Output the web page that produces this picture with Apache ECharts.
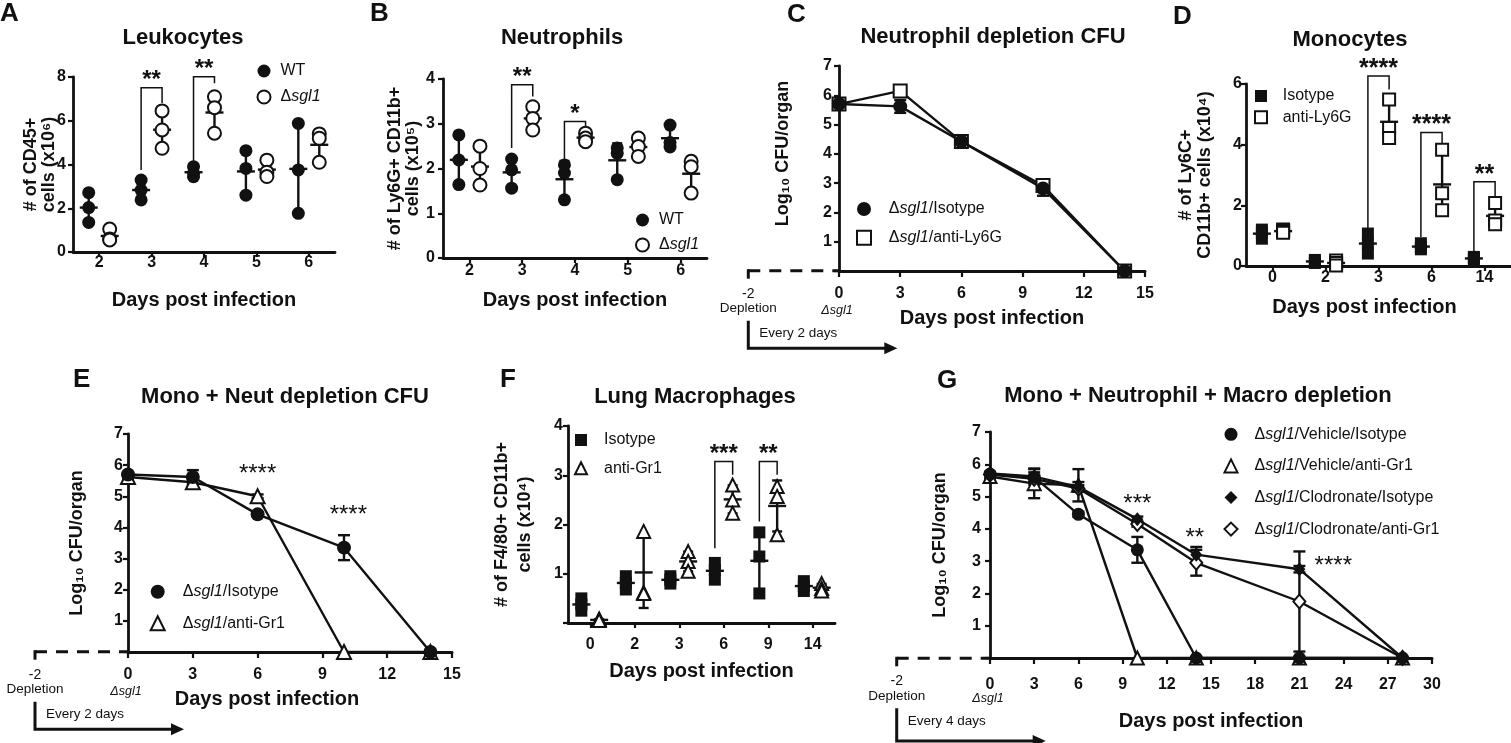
<!DOCTYPE html>
<html>
<head>
<meta charset="utf-8">
<script src="https://cdn.jsdelivr.net/npm/echarts@6/dist/echarts.min.js"></script>
<style>
  html, body { margin: 0; background: #fff; }
  #main { width: 1511px; height: 743px; }
</style>
</head>
<body>
<div id="main"></div>
<script>
// ---------- data ----------
// A  leukocytes, # of CD45+ cells (x10^6), 3 mice per day
const leukoDays = ['2', '3', '4', '5', '6'];
const leukoWT = [[2.71, 2.03, 1.35], [3.29, 2.83, 2.38], [3.9, 3.6, 3.44], [4.63, 3.82, 2.6], [5.88, 3.75, 1.77]];
const leukoKO = [[1.05, 0.6, 0.55], [6.45, 5.58, 4.74], [7.1, 6.6, 5.43], [4.2, 3.65, 3.45], [5.4, 5.2, 4.1]];
// brackets: [day index, left foot, top, right foot, stars]
const leukoSig = [[1, 3.75, 7.51, 6.81, '**'], [2, 4.16, 8.01, 7.71, '**']];

// B  neutrophils (x10^5)
const neutDays = ['2', '3', '4', '5', '6'];
const neutWT = [[2.75, 2.19, 1.64], [2.21, 1.97, 1.56], [2.08, 1.9, 1.3], [2.46, 2.34, 1.75], [2.97, 2.58, 2.48]];
const neutKO = [[2.5, 2.0, 1.63], [3.38, 3.12, 2.86], [2.79, 2.68, 2.6], [2.68, 2.49, 2.27], [2.16, 2.04, 1.45]];
const neutSig = [[1, 2.46, 3.87, 3.61, '**'], [2, 2.19, 3.05, 2.84, '*']];

// C  neutrophil depletion CFU (log10)
const cDays = [0, 3, 6, 10, 14];
const cIsotype = [5.7, 5.62, 4.42, 2.82, 0];
const cIsotypeSd = [0.08, 0.22, 0.08, 0.25, 0];
const cAntiLy6G = [5.7, 6.15, 4.42, 2.92, 0];
const cAntiLy6GSd = [0.1, 0.08, 0.08, 0.15, 0];

// D  monocytes (x10^4)
const monoDays = ['0', '2', '3', '6', '14'];
const monoIso = [[1.2, 1.1, 0.9], [0.2, 0.15, 0.1], [1.07, 0.74, 0.41], [0.75, 0.62, 0.55], [0.3, 0.25, 0.2]];
const monoLy6G = [[1.2, 1.15, 1.1], [0.18, 0.1, 0.02], [5.49, 4.55, 4.22], [3.83, 2.4, 1.84], [2.08, 1.5, 1.38]];
const monoSig = [[2, 1.18, 6.26, 5.82, '****'], [3, 0.96, 4.4, 4.05, '****'], [4, 0.46, 2.78, 2.28, '**']];

// E  mono + neut depletion CFU
const eDays = [0, 3, 6, 10, 14];
const eIsotype = [5.7, 5.62, 4.42, 3.35, 0];
const eIsotypeSd = [0.06, 0.22, 0.08, 0.4, 0];
const eAntiGr1 = [5.62, 5.45, 5.0, 0, 0];
const eAntiGr1Sd = [0.06, 0.12, 0.06, 0, 0];
const eSig = [[6, 5.85, '****'], [10.2, 4.56, '****']];

// F  lung macrophages (x10^4)
const macDays = ['0', '2', '3', '6', '9', '14'];
const macIso = [[0.5, 0.38, 0.25], [0.95, 0.81, 0.68], [0.95, 0.88, 0.8], [1.22, 1.08, 0.88], [1.84, 1.35, 0.6], [0.85, 0.75, 0.65]];
const macGr1 = [[0.08, 0.06, 0.05], [1.86, 0.62, 0.6], [1.45, 1.25, 1.05], [2.8, 2.5, 2.23], [2.77, 2.57, 1.79], [0.8, 0.7, 0.65]];
const macSig = [[3, 1.52, 3.28, 3.01, '***'], [4, 2.06, 3.28, 3.01, '**']];

// G  mono + neutrophil + macro depletion CFU
const gDays = [0, 3, 6, 10, 14, 21, 28];
const gVehIso = [5.7, 5.6, 4.45, 3.35, 0, 0, 0];
const gVehIsoSd = [0.05, 0.15, 0.08, 0.4, 0, 0, 0];
const gVehGr1 = [5.62, 5.4, 5.35, 0, 0, 0, 0];
const gVehGr1Sd = [0.06, 0.45, 0.5, 0, 0, 0, 0];
const gClodIso = [5.72, 5.62, 5.3, 4.3, 3.2, 2.75, 0];
const gClodIsoSd = [0.05, 0.25, 0.15, 0.08, 0.24, 0.1, 0];
const gClodGr1 = [5.68, 5.55, 5.25, 4.15, 2.95, 1.75, 0];
const gClodGr1Sd = [0.05, 0.1, 0.1, 0.08, 0.4, 1.55, 0];
const gSig = [[10, 4.9, '***'], [13.9, 3.87, '**'], [23.3, 2.99, '****']];

// ---------- helpers ----------
const INK = '#111';
const FONT = '"Liberation Sans", Arial, Helvetica, sans-serif';

function meanSd(arr) {
  const m = arr.reduce((a, b) => a + b, 0) / arr.length;
  const s = Math.sqrt(arr.reduce((a, b) => a + (b - m) * (b - m), 0) / (arr.length - 1));
  return [m, s];
}

function markStyle(filled) {
  return filled ? { color: INK, opacity: 1 } : { color: '#fff', borderColor: INK, borderWidth: 2, opacity: 1 };
}

// points of one group, shifted left/right of the day centre
function dots(name, groups, off, xi, yi, symbol, filled, size) {
  const pts = [];
  groups.forEach((vals, i) => vals.forEach(v => pts.push([i + off, v])));
  return {
    name, type: 'scatter', xAxisIndex: xi, yAxisIndex: yi, data: pts, clip: false, z: 5,
    symbol, symbolSize: size, itemStyle: markStyle(filled)
  };
}

// mean line and SD whiskers for a dot plot
function meanBars(groups, off, xi, yi) {
  const data = groups.map((vals, i) => [i + off].concat(meanSd(vals)));
  return {
    type: 'custom', xAxisIndex: xi, yAxisIndex: yi, data, z: 3, silent: true, clip: false,
    renderItem(params, api) {
      const x = api.value(0), m = api.value(1), s = api.value(2);
      const pm = api.coord([x, m]), ph = api.coord([x, m + s]), pl = api.coord([x, Math.max(m - s, 0)]);
      const st = { stroke: INK, lineWidth: 2.4 };
      return {
        type: 'group', children: [
          { type: 'line', shape: { x1: pm[0], y1: ph[1], x2: pm[0], y2: pl[1] }, style: st },
          { type: 'line', shape: { x1: pm[0] - 5, y1: ph[1], x2: pm[0] + 5, y2: ph[1] }, style: st },
          { type: 'line', shape: { x1: pm[0] - 5, y1: pl[1], x2: pm[0] + 5, y2: pl[1] }, style: st },
          { type: 'line', shape: { x1: pm[0] - 9, y1: pm[1], x2: pm[0] + 9, y2: pm[1] }, style: st }
        ]
      };
    }
  };
}

// significance brackets between the two groups of a day
function brackets(sig, off, xi, yi, size) {
  return {
    type: 'custom', xAxisIndex: xi, yAxisIndex: yi, data: sig.map(s => s.slice(0, 4)), z: 4, silent: true, clip: false,
    renderItem(params, api) {
      const c = api.value(0);
      const l = api.coord([c - off, api.value(1)]);
      const t1 = api.coord([c - off, api.value(2)]);
      const t2 = api.coord([c + off, api.value(2)]);
      const r = api.coord([c + off, api.value(3)]);
      return {
        type: 'group', children: [
          { type: 'polyline', shape: { points: [l, t1, t2, r] }, style: { stroke: INK, lineWidth: 1.5, fill: 'none' } },
          { type: 'text', x: (t1[0] + t2[0]) / 2, y: t1[1] - 7,
            style: { text: sig[params.dataIndex][4], font: 'bold ' + size + 'px ' + FONT, fill: INK,
              align: 'center', verticalAlign: 'middle', textAlign: 'center', textVerticalAlign: 'middle' } }
        ]
      };
    }
  };
}

function cfuLine(name, days, vals, xi, yi, symbol, filled, size) {
  return {
    name, type: 'line', xAxisIndex: xi, yAxisIndex: yi, data: days.map((d, i) => [d, vals[i]]),
    symbol, symbolSize: size, showAllSymbol: true, clip: false, z: 5,
    lineStyle: { color: INK, width: 2.4 }, itemStyle: markStyle(filled)
  };
}

function cfuBars(days, vals, sds, xi, yi) {
  const data = [];
  days.forEach((d, i) => { if (sds[i] > 0) data.push([d, vals[i], sds[i]]); });
  return {
    type: 'custom', xAxisIndex: xi, yAxisIndex: yi, data, z: 3, silent: true, clip: false,
    renderItem(params, api) {
      const x = api.value(0), m = api.value(1), s = api.value(2);
      const ph = api.coord([x, m + s]), pl = api.coord([x, m - s]);
      const st = { stroke: INK, lineWidth: 2.4 };
      return {
        type: 'group', children: [
          { type: 'line', shape: { x1: ph[0], y1: ph[1], x2: ph[0], y2: pl[1] }, style: st },
          { type: 'line', shape: { x1: ph[0] - 6, y1: ph[1], x2: ph[0] + 6, y2: ph[1] }, style: st },
          { type: 'line', shape: { x1: ph[0] - 6, y1: pl[1], x2: ph[0] + 6, y2: pl[1] }, style: st }
        ]
      };
    }
  };
}

// stars placed at data positions (CFU panels)
function stars(sig, xi, yi) {
  return {
    type: 'custom', xAxisIndex: xi, yAxisIndex: yi, data: sig.map(s => [s[0], s[1]]), z: 6, silent: true, clip: false,
    renderItem(params, api) {
      const p = api.coord([api.value(0), api.value(1)]);
      return { type: 'text', x: p[0], y: p[1] + 5,
        style: { text: sig[params.dataIndex][2], font: '24px ' + FONT, fill: INK,
          align: 'center', verticalAlign: 'middle', textAlign: 'center', textVerticalAlign: 'middle' } };
    }
  };
}

// ---------- axes ----------
const axisLine = { show: true, onZero: false, lineStyle: { color: INK, width: 2.8 } };
const nameStyle = { color: INK, fontSize: 20, fontWeight: 'bold', fontFamily: FONT };
function tickLab(margin) {
  return { color: INK, fontSize: 16, fontWeight: 'bold', fontFamily: FONT, margin };
}

function catX(gi, cats, margin, gap, pad) {
  return {
    type: 'category', gridIndex: gi, data: cats, boundaryGap: true,
    axisLine, axisTick: { show: true, alignWithLabel: true, interval: 0, length: 5, lineStyle: { color: INK, width: 2.2 } },
    axisLabel: Object.assign(tickLab(margin), { interval: 0 }), splitLine: { show: false },
    name: 'Days post infection', nameLocation: 'middle', nameGap: gap, nameMoveOverlap: false,
    nameTextStyle: Object.assign({ padding: pad || 0 }, nameStyle)
  };
}
function hiddenX(gi, n) {
  return { type: 'value', gridIndex: gi, min: -0.5, max: n - 0.5, show: false };
}
function valX(gi, max, margin, gap, pad) {
  return {
    type: 'value', gridIndex: gi, min: 0, max, interval: 3,
    axisLine, axisTick: { show: true, length: 6, lineStyle: { color: INK, width: 2.2 } },
    axisLabel: tickLab(margin), splitLine: { show: false },
    name: 'Days post infection', nameLocation: 'middle', nameGap: gap, nameMoveOverlap: false,
    nameTextStyle: Object.assign({ padding: pad || 0 }, nameStyle)
  };
}
function valY(gi, max, interval, name, gap, lh, hideZero, margin, pad) {
  return {
    type: 'value', gridIndex: gi, min: 0, max, interval,
    axisLine, axisTick: { show: true, length: 5, lineStyle: { color: INK, width: 2.2 } },
    axisLabel: Object.assign(tickLab(margin), { formatter: v => (hideZero && v === 0) ? '' : String(v) }),
    splitLine: { show: false },
    name, nameLocation: 'middle', nameRotate: 90, nameGap: gap, nameMoveOverlap: false,
    nameTextStyle: Object.assign({}, nameStyle, { fontSize: 18, lineHeight: lh, padding: pad || 0 })
  };
}

function grid(left, top, width, height) {
  return { left, top, width, height, outerBoundsMode: 'none', containLabel: false };
}

// ---------- legends ----------
const legText = {
  color: INK, fontSize: 16, fontFamily: FONT, lineHeight: 18,
  rich: { i: { fontStyle: 'italic', fontSize: 16, fontFamily: FONT, color: INK, lineHeight: 18 } }
};
function legend(names, icons, left, top, gap, size, textPad) {
  return {
    data: names.map((n, i) => ({ name: n, icon: icons[i] })),
    orient: 'vertical', left, top, itemGap: gap, itemWidth: size, itemHeight: size, padding: 0,
    selectedMode: false,
    textStyle: Object.assign({ padding: [0, 0, 0, textPad] }, legText),
    formatter: n => n.replace('sgl1', '{i|sgl1}')
  };
}

// ---------- decorations ----------
function txt(x, y, text, font, align) {
  const a = align || 'center';
  return { type: 'text', x, y, silent: true,
    style: { text, font, fill: INK, align: a, verticalAlign: 'middle', textAlign: a, textVerticalAlign: 'middle' } };
}
// dashed depletion line, "-2 Depletion" and the treatment arrow
function depletion(x0, x1, y, arrowY, every) {
  const tip = x0 + 149;
  return [
    { type: 'line', silent: true, shape: { x1: x0, y1: y, x2: x1, y2: y }, style: { stroke: INK, lineWidth: 3, lineDash: [12, 9] } },
    { type: 'line', silent: true, shape: { x1: x0, y1: y - 1.5, x2: x0, y2: y + 8 }, style: { stroke: INK, lineWidth: 3 } },
    txt(x0, y + 23, '-2', '14px ' + FONT),
    txt(x0, y + 37.5, 'Depletion', '13.5px ' + FONT),
    txt(x1 - 2, y + 40, 'Δsgl1', 'italic 12.5px ' + FONT),
    txt(x0 + 11, y + 63, every, '13.5px ' + FONT, 'left'),
    { type: 'polyline', silent: true, shape: { points: [[x0, y + 50], [x0, arrowY], [tip - 10, arrowY]] }, style: { stroke: INK, lineWidth: 3, fill: 'none' } },
    { type: 'polygon', silent: true, shape: { points: [[tip, arrowY], [tip - 13, arrowY - 6], [tip - 13, arrowY + 6]] }, style: { fill: INK } }
  ];
}

const letterFont = 'bold 26px ' + FONT;
const titleFont = 'bold 22px ' + FONT;
const graphics = [
  txt(0, 14, 'A', letterFont, 'left'),
  txt(370, 14, 'B', letterFont, 'left'),
  txt(787, 15, 'C', letterFont, 'left'),
  txt(1173, 17, 'D', letterFont, 'left'),
  txt(73, 380, 'E', letterFont, 'left'),
  txt(500, 380, 'F', letterFont, 'left'),
  txt(937, 381, 'G', letterFont, 'left'),
  txt(183, 38, 'Leukocytes', titleFont),
  txt(562, 38, 'Neutrophils', titleFont),
  txt(993, 37, 'Neutrophil depletion CFU', titleFont),
  txt(1350, 40, 'Monocytes', titleFont),
  txt(285, 397, 'Mono + Neut depletion CFU', titleFont),
  txt(695, 397, 'Lung Macrophages', titleFont),
  txt(1198, 396, 'Mono + Neutrophil + Macro depletion', titleFont)
].concat(
  depletion(748.3, 839, 270.7, 348.3, 'Every 2 days'),
  depletion(35, 128, 651.7, 729.3, 'Every 2 days'),
  depletion(896.7, 990, 658.3, 741, 'Every 4 days')
);

// ---------- chart ----------
const chart = echarts.init(document.getElementById('main'));
const option = {
  animation: false,
  backgroundColor: '#fff',
  textStyle: { fontFamily: FONT },
  grid: [
    grid(73, 77, 262, 175),      // A
    grid(443, 79, 264, 179),     // B
    grid(839, 66, 306, 205),     // C
    grid(1246, 84, 265, 182),    // D
    grid(128, 434, 324, 218),    // E
    grid(568, 426, 267, 197),    // F
    grid(990, 432, 442, 226)     // G
  ],
  xAxis: [
    catX(0, leukoDays, 3, 38), hiddenX(0, leukoDays.length),
    catX(1, neutDays, 5, 32), hiddenX(1, neutDays.length),
    valX(2, 15, 15, 37),
    catX(3, monoDays, 4, 31, [0, 28, 0, 0]), hiddenX(3, monoDays.length),
    valX(4, 15, 15, 37, [0, 46, 0, 0]),
    catX(5, macDays, 14, 38), hiddenX(5, macDays.length),
    valX(6, 30, 19, 53)
  ],
  yAxis: [
    valY(0, 8, 2, '# of CD45+\ncells (x10⁶)', 15, 18, false, 7),
    valY(1, 4, 1, '# of Ly6G+ CD11b+\ncells (x10⁵)', 21, 18, false, 8),
    valY(2, 7, 1, 'Log₁₀ CFU/organ', 46, 20, true, 7, [0, 0, 0, 30]),
    valY(3, 6, 2, '# of Ly6C+\nCD11b+ cells (x10⁴)', 31, 19, false, 4),
    valY(4, 7, 1, 'Log₁₀ CFU/organ', 41, 20, true, 5),
    valY(5, 4, 1, '# of F4/80+ CD11b+\ncells (x10⁴)', 31, 23, true, 5),
    valY(6, 7, 1, 'Log₁₀ CFU/organ', 40, 20, true, 9)
  ],
  legend: [
    legend(['WT', 'Δsgl1'], ['circle', 'circle'], 256.5, 62, 8, 13, 5),
    legend(['WT', 'Δsgl1'], ['circle', 'circle'], 635, 211, 7, 13, 5),
    legend(['Δsgl1/Isotype', 'Δsgl1/anti-Ly6G'], ['circle', 'rect'], 856, 200, 10.7, 14, 12.7),
    legend(['Isotype', 'anti-Ly6G'], ['rect', 'rect'], 1254, 87, 3.3, 12, 10.7),
    legend(['Δsgl1/Isotype', 'Δsgl1/anti-Gr1'], ['circle', 'triangle'], 149.7, 582.7, 13.6, 14, 13),
    legend(['Isotype', 'anti-Gr1'], ['rect', 'triangle'], 574, 431, 10.3, 12, 12),
    legend(['Δsgl1/Vehicle/Isotype', 'Δsgl1/Vehicle/anti-Gr1', 'Δsgl1/Clodronate/Isotype', 'Δsgl1/Clodronate/anti-Gr1'],
      ['circle', 'triangle', 'diamond', 'diamond'], 1223.5, 425.3, 13.6, 13, 12)
  ],
  graphic: { elements: graphics },
  series: [
    // A
    meanBars(leukoWT, -0.2, 1, 0), meanBars(leukoKO, 0.2, 1, 0),
    dots('WT', leukoWT, -0.2, 1, 0, 'circle', true, 13),
    dots('Δsgl1', leukoKO, 0.2, 1, 0, 'circle', false, 13),
    brackets(leukoSig, 0.2, 1, 0, 24),
    // B
    meanBars(neutWT, -0.2, 3, 1), meanBars(neutKO, 0.2, 3, 1),
    dots('WT', neutWT, -0.2, 3, 1, 'circle', true, 13),
    dots('Δsgl1', neutKO, 0.2, 3, 1, 'circle', false, 13),
    brackets(neutSig, 0.2, 3, 1, 24),
    // C
    cfuBars(cDays, cIsotype, cIsotypeSd, 4, 2), cfuBars(cDays, cAntiLy6G, cAntiLy6GSd, 4, 2),
    cfuLine('Δsgl1/anti-Ly6G', cDays, cAntiLy6G, 4, 2, 'rect', false, 13),
    cfuLine('Δsgl1/Isotype', cDays, cIsotype, 4, 2, 'circle', true, 14),
    // D
    meanBars(monoIso, -0.2, 6, 3), meanBars(monoLy6G, 0.2, 6, 3),
    dots('Isotype', monoIso, -0.2, 6, 3, 'rect', true, 12),
    dots('anti-Ly6G', monoLy6G, 0.2, 6, 3, 'rect', false, 12),
    brackets(monoSig, 0.2, 6, 3, 25),
    // E
    cfuBars(eDays, eIsotype, eIsotypeSd, 7, 4), cfuBars(eDays, eAntiGr1, eAntiGr1Sd, 7, 4),
    cfuLine('Δsgl1/anti-Gr1', eDays, eAntiGr1, 7, 4, 'triangle', false, 14),
    cfuLine('Δsgl1/Isotype', eDays, eIsotype, 7, 4, 'circle', true, 14),
    stars(eSig, 7, 4),
    // F
    meanBars(macIso, -0.2, 9, 5), meanBars(macGr1, 0.2, 9, 5),
    dots('Isotype', macIso, -0.2, 9, 5, 'rect', true, 12),
    dots('anti-Gr1', macGr1, 0.2, 9, 5, 'triangle', false, 13),
    brackets(macSig, 0.2, 9, 5, 24),
    // G
    cfuBars(gDays, gVehIso, gVehIsoSd, 10, 6), cfuBars(gDays, gVehGr1, gVehGr1Sd, 10, 6),
    cfuBars(gDays, gClodIso, gClodIsoSd, 10, 6), cfuBars(gDays, gClodGr1, gClodGr1Sd, 10, 6),
    cfuLine('Δsgl1/Vehicle/anti-Gr1', gDays, gVehGr1, 10, 6, 'triangle', false, 13),
    cfuLine('Δsgl1/Clodronate/anti-Gr1', gDays, gClodGr1, 10, 6, 'diamond', false, [12, 14]),
    cfuLine('Δsgl1/Clodronate/Isotype', gDays, gClodIso, 10, 6, 'diamond', true, [12, 14]),
    cfuLine('Δsgl1/Vehicle/Isotype', gDays, gVehIso, 10, 6, 'circle', true, 13),
    stars(gSig, 10, 6)
  ]
};
chart.setOption(option);
</script>
</body>
</html>
